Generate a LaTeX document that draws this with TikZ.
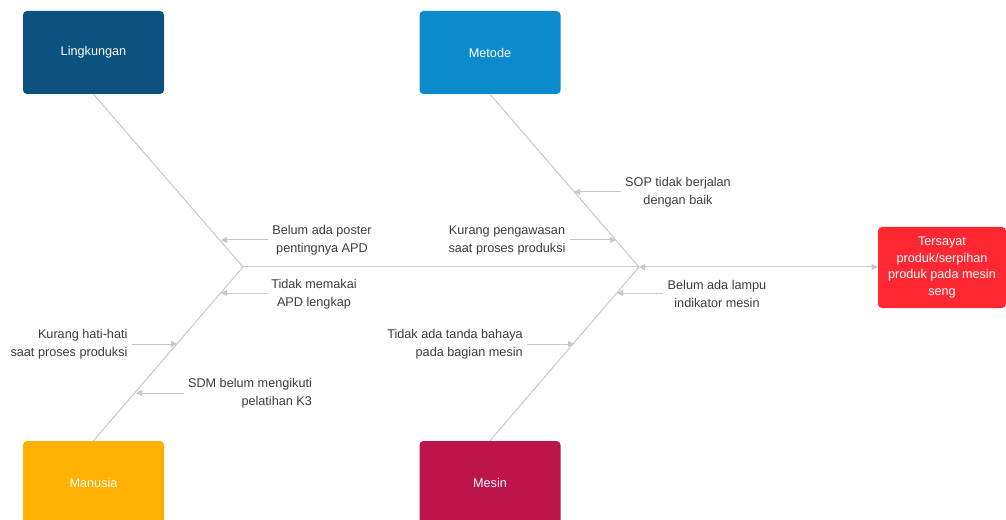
\documentclass[tikz,border=0pt]{standalone}
\usepackage{fontspec}
\setmainfont{Liberation Sans}
\usetikzlibrary{arrows.meta}

\definecolor{lingk}{RGB}{11,82,128}
\definecolor{metode}{RGB}{11,139,204}
\definecolor{manusia}{RGB}{255,176,0}
\definecolor{mesin}{RGB}{190,20,76}
\definecolor{akibat}{RGB}{255,40,50}
\definecolor{tulang}{RGB}{200,200,200}
\definecolor{teks}{RGB}{60,60,60}

\tikzset{
  kategori/.style={rounded corners=3pt, draw=none, text=white, minimum width=105.75pt, minimum height=62.25pt, font=\fontsize{9.5}{12}\selectfont},
  sebab/.style={text=teks, inner sep=3pt, font=\fontsize{9.5}{13.5}\selectfont},
  tulangan/.style={draw=tulang, line width=0.75pt},
  panah/.style={draw=tulang, line width=0.75pt, -{Triangle[length=4.5pt,width=4.5pt]}}
}

\begin{document}
\begin{tikzpicture}[x=0.75pt,y=0.75pt,yscale=-1,xscale=1]
    \clip (0,0) rectangle (1006,520);
    \fill[white] (0,0) rectangle (1006,520);

    %Shape: Rounded Rect [Lingkungan]
    \node [kategori, fill=lingk] (lingkungan) at (93.5,52.5) {Lingkungan};
    %Shape: Rounded Rect [Metode]
    \node [kategori, fill=metode] (metode) at (490,52.5) {Metode};
    %Shape: Rounded Rect [Manusia]
    \node [kategori, fill=manusia] (manusia) at (93.5,482.5) {Manusia};
    %Shape: Rounded Rect [Mesin]
    \node [kategori, fill=mesin] (mesin) at (490,482.5) {Mesin};
    %Shape: Rounded Rect [head]
    \node [kategori, fill=akibat, minimum width=96pt, minimum height=60.75pt, align=center, font=\fontsize{9.5}{12.4}\selectfont] (akibat) at (942,267.5) {Tersayat\\produk/serpihan\\produk pada mesin\\seng};

    %Junctions
    \coordinate (jkiri) at (243,267);
    \coordinate (jkanan) at (639,267);

    %Straight Lines [bones]
    \draw [tulangan] (lingkungan.south) -- (jkiri);
    \draw [tulangan] (manusia.north) -- (jkiri);
    \draw [tulangan] (metode.south) -- (jkanan);
    \draw [tulangan] (mesin.north) -- (jkanan);
    \draw [tulangan] (jkiri) -- (jkanan);
    \draw [tulangan, {Triangle[length=4.5pt,width=4.5pt]}-{Triangle[length=4.5pt,width=4.5pt]}] (jkanan) -- (akibat.west |- jkanan);

    % Text Node
    \node [sebab, align=center] (poster) at (322,240) {Belum ada poster\\pentingnya APD};
    % Text Node
    \node [sebab, align=center] (apd) at (314,294) {Tidak memakai\\APD lengkap};
    % Text Node
    \node [sebab, align=right] (hati) at (69,344) {Kurang hati-hati\\saat proses produksi};
    % Text Node
    \node [sebab, align=right] (sdm) at (250,393) {SDM belum mengikuti\\pelatihan K3};
    % Text Node
    \node [sebab, align=center] (sop) at (678,192) {SOP tidak berjalan\\dengan baik};
    % Text Node
    \node [sebab, align=center] (awas) at (507,240) {Kurang pengawasan\\saat proses produksi};
    % Text Node
    \node [sebab, align=center] (lampu) at (717,294) {Belum ada lampu\\indikator mesin};
    % Text Node
    \node [sebab, align=right] (tanda) at (455,344) {Tidak ada tanda bahaya\\pada bagian mesin};

    %Straight Lines [causes]
    \coordinate (tposter) at (221,240);
    \coordinate (tapd) at (221,293);
    \coordinate (thati) at (177,344);
    \coordinate (tsdm) at (136,393);
    \coordinate (tsop) at (574,192);
    \coordinate (tawas) at (616,240);
    \coordinate (tlampu) at (617,293);
    \coordinate (ttanda) at (574,344);
    \draw [panah] (poster.west |- tposter) -- (tposter);
    \draw [panah] (apd.west |- tapd) -- (tapd);
    \draw [panah] (hati.east |- thati) -- (thati);
    \draw [panah] (sdm.west |- tsdm) -- (tsdm);
    \draw [panah] (sop.west |- tsop) -- (tsop);
    \draw [panah] (awas.east |- tawas) -- (tawas);
    \draw [panah] (lampu.west |- tlampu) -- (tlampu);
    \draw [panah] (tanda.east |- ttanda) -- (ttanda);
\end{tikzpicture}
\end{document}
